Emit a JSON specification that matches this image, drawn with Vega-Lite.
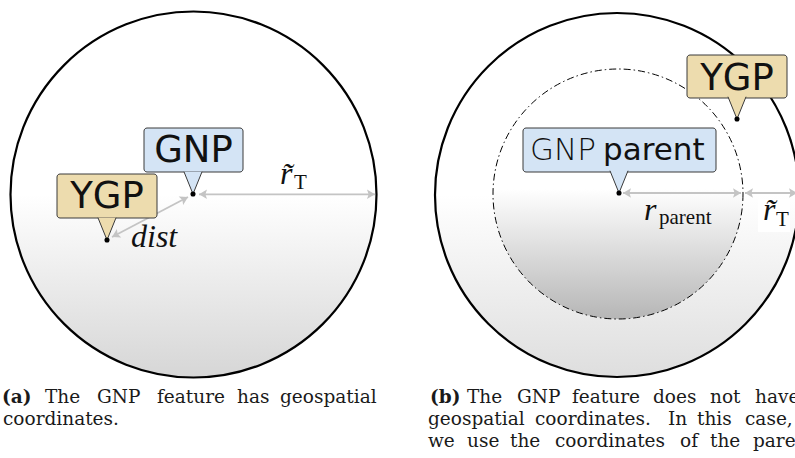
{
  "$schema": "https://vega.github.io/schema/vega-lite/v6.json",
  "width": 795,
  "height": 458,
  "padding": 0,
  "autosize": {"type": "none"},
  "background": "white",
  "config": {"view": {"stroke": null}},
  "datasets": {
    "bigL": [{"x": 193.5, "y": 194.5}],
    "bigR": [{"x": 617, "y": 195}],
    "inner": [{"x": 618, "y": 194}],
    "rules": [
      {"x": 199, "y": 194.3, "x2": 375, "y2": 194.3},
      {"x": 112, "y": 237, "x2": 188, "y2": 197},
      {"x": 623, "y": 193, "x2": 741, "y2": 193},
      {"x": 745, "y": 193, "x2": 797, "y2": 193}
    ],
    "headR": [{"x": 375, "y": 194.3}, {"x": 741, "y": 193}, {"x": 797, "y": 193}],
    "headL": [{"x": 199, "y": 194.3}, {"x": 623, "y": 193}, {"x": 745, "y": 193}],
    "headDiagUp": [{"x": 188, "y": 197}],
    "headDiagDown": [{"x": 112, "y": 237}],
    "labelBg": [{"x": 758, "x2": 790, "y": 199, "y2": 232}],
    "blueBoxes": [
      {"x": 144, "x2": 243, "y": 128, "y2": 172},
      {"x": 523, "x2": 716, "y": 128, "y2": 172}
    ],
    "tanBoxes": [
      {"x": 57, "x2": 157, "y": 174, "y2": 218},
      {"x": 687, "x2": 787, "y": 55, "y2": 98}
    ],
    "bluePointers": [{"x": 193, "y": 194}, {"x": 619, "y": 193}],
    "tanPointers": [{"x": 107, "y": 240}, {"x": 737, "y": 119}],
    "dots": [{"x": 193, "y": 194}, {"x": 107, "y": 240}, {"x": 619, "y": 193}, {"x": 737, "y": 119}],
    "labelsBig": [
      {"x": 193.5, "y": 162, "text": "GNP"},
      {"x": 107, "y": 208, "text": "YGP"},
      {"x": 737, "y": 90, "text": "YGP"}
    ],
    "gnpLight": [{"x": 530, "y": 160, "text": "GNP"}],
    "parentWord": [{"x": 603, "y": 160, "text": "parent"}],
    "mathItalic": [
      {"x": 280, "y": 184, "text": "r̃"},
      {"x": 131, "y": 247, "text": "dist"},
      {"x": 644, "y": 220, "text": "r"},
      {"x": 763, "y": 220, "text": "r̃"}
    ],
    "mathSub": [
      {"x": 294, "y": 189, "text": "T"},
      {"x": 659, "y": 224, "text": "parent"},
      {"x": 776, "y": 226, "text": "T"}
    ],
    "captionBold": [{"x": 2, "y": 403, "text": "(a)"}, {"x": 430, "y": 403, "text": "(b)"}],
    "captionWords": [
      {"x": 45, "y": 403, "text": "The"},
      {"x": 97, "y": 403, "text": "GNP"},
      {"x": 157, "y": 403, "text": "feature"},
      {"x": 237, "y": 403, "text": "has"},
      {"x": 280, "y": 403, "text": "geospatial"},
      {"x": 3, "y": 425, "text": "coordinates."},
      {"x": 467, "y": 403, "text": "The"},
      {"x": 517, "y": 403, "text": "GNP"},
      {"x": 572, "y": 403, "text": "feature"},
      {"x": 653, "y": 403, "text": "does"},
      {"x": 710, "y": 403, "text": "not"},
      {"x": 755, "y": 403, "text": "have"},
      {"x": 428, "y": 425, "text": "geospatial"},
      {"x": 535, "y": 425, "text": "coordinates."},
      {"x": 668, "y": 425, "text": "In"},
      {"x": 697, "y": 425, "text": "this"},
      {"x": 745, "y": 425, "text": "case,"},
      {"x": 428, "y": 447, "text": "we"},
      {"x": 467, "y": 447, "text": "use"},
      {"x": 510, "y": 447, "text": "the"},
      {"x": 555, "y": 447, "text": "coordinates"},
      {"x": 680, "y": 447, "text": "of"},
      {"x": 710, "y": 447, "text": "the"},
      {"x": 753, "y": 447, "text": "parent"}
    ]
  },
  "encoding": {
    "x": {"field": "x", "type": "quantitative", "scale": {"domain": [0, 795], "nice": false, "zero": false}, "axis": null},
    "y": {"field": "y", "type": "quantitative", "scale": {"domain": [0, 458], "nice": false, "zero": false, "reverse": true}, "axis": null}
  },
  "layer": [
    {
      "data": {"name": "bigL"},
      "mark": {"type": "point", "shape": "circle", "size": 133956, "filled": true, "opacity": 1,
        "fill": {"gradient": "linear", "x1": 0, "y1": 0, "x2": 0, "y2": 1,
          "stops": [{"offset": 0, "color": "#ffffff"}, {"offset": 0.5, "color": "#ffffff"}, {"offset": 1, "color": "#d6d6d6"}]},
        "stroke": "#000000", "strokeWidth": 2.2}
    },
    {
      "data": {"name": "bigR"},
      "mark": {"type": "point", "shape": "circle", "size": 132496, "filled": true, "opacity": 1,
        "fill": {"gradient": "linear", "x1": 0, "y1": 0, "x2": 0, "y2": 1,
          "stops": [{"offset": 0, "color": "#ffffff"}, {"offset": 0.5, "color": "#ffffff"}, {"offset": 1, "color": "#dedede"}]},
        "stroke": "#000000", "strokeWidth": 2.2}
    },
    {
      "data": {"name": "inner"},
      "mark": {"type": "point", "shape": "circle", "size": 62500, "filled": true, "opacity": 1,
        "fill": {"gradient": "linear", "x1": 0, "y1": 0, "x2": 0, "y2": 1,
          "stops": [{"offset": 0, "color": "#ffffff"}, {"offset": 0.48, "color": "#ffffff"}, {"offset": 1, "color": "#b6b6b6"}]},
        "stroke": "#000000", "strokeWidth": 1, "strokeDash": [7, 3, 1.5, 3]}
    },
    {
      "data": {"name": "labelBg"},
      "mark": {"type": "rect", "fill": "#ffffff"},
      "encoding": {"x2": {"field": "x2"}, "y2": {"field": "y2"}}
    },
    {
      "data": {"name": "rules"},
      "mark": {"type": "rule", "color": "#c4c4c4", "strokeWidth": 1.8},
      "encoding": {"x2": {"field": "x2"}, "y2": {"field": "y2"}}
    },
    {
      "data": {"name": "headR"},
      "mark": {"type": "point", "shape": "M0,0L-1,-0.6L-0.8,0L-1,0.6Z", "size": 256, "filled": true, "opacity": 1, "fill": "#c4c4c4", "strokeWidth": 0},
      "encoding": {}
    },
    {
      "data": {"name": "headL"},
      "mark": {"type": "point", "shape": "M0,0L1,-0.6L0.8,0L1,0.6Z", "size": 256, "filled": true, "opacity": 1, "fill": "#c4c4c4", "strokeWidth": 0},
      "encoding": {}
    },
    {
      "data": {"name": "headDiagUp"},
      "mark": {"type": "point", "shape": "M0,0L-1,-0.6L-0.8,0L-1,0.6Z", "size": 256, "angle": -27.8, "filled": true, "opacity": 1, "fill": "#c4c4c4", "strokeWidth": 0},
      "encoding": {}
    },
    {
      "data": {"name": "headDiagDown"},
      "mark": {"type": "point", "shape": "M0,0L1,-0.6L0.8,0L1,0.6Z", "size": 256, "angle": -27.8, "filled": true, "opacity": 1, "fill": "#c4c4c4", "strokeWidth": 0},
      "encoding": {}
    },
    {
      "data": {"name": "blueBoxes"},
      "mark": {"type": "rect", "fill": "#d4e4f5", "stroke": "#3a3a3a", "strokeWidth": 1, "cornerRadius": 3},
      "encoding": {"x2": {"field": "x2"}, "y2": {"field": "y2"}}
    },
    {
      "data": {"name": "tanBoxes"},
      "mark": {"type": "rect", "fill": "#eddcae", "stroke": "#3a3a3a", "strokeWidth": 1, "cornerRadius": 3},
      "encoding": {"x2": {"field": "x2"}, "y2": {"field": "y2"}}
    },
    {
      "data": {"name": "bluePointers"},
      "mark": {"type": "point", "shape": "M-0.43,-1.06L0,0L0.43,-1.06", "size": 1764, "filled": true, "opacity": 1, "fill": "#d4e4f5", "stroke": "#3a3a3a", "strokeWidth": 1}
    },
    {
      "data": {"name": "tanPointers"},
      "mark": {"type": "point", "shape": "M-0.43,-1.06L0,0L0.43,-1.06", "size": 1764, "filled": true, "opacity": 1, "fill": "#eddcae", "stroke": "#3a3a3a", "strokeWidth": 1}
    },
    {
      "data": {"name": "dots"},
      "mark": {"type": "point", "shape": "circle", "size": 26, "filled": true, "opacity": 1, "fill": "#000000"}
    },
    {
      "data": {"name": "labelsBig"},
      "mark": {"type": "text", "align": "center", "baseline": "alphabetic", "font": "DejaVu Sans", "fontSize": 37, "fill": "#111111"},
      "encoding": {"text": {"field": "text"}}
    },
    {
      "data": {"name": "gnpLight"},
      "mark": {"type": "text", "align": "left", "baseline": "alphabetic", "font": "DejaVu Sans", "fontWeight": 200, "fontSize": 31, "fill": "#111111"},
      "encoding": {"text": {"field": "text"}}
    },
    {
      "data": {"name": "parentWord"},
      "mark": {"type": "text", "align": "left", "baseline": "alphabetic", "font": "DejaVu Sans", "fontSize": 31, "fill": "#111111"},
      "encoding": {"text": {"field": "text"}}
    },
    {
      "data": {"name": "mathItalic"},
      "mark": {"type": "text", "align": "left", "baseline": "alphabetic", "font": "Liberation Serif", "fontStyle": "italic", "fontSize": 32, "fill": "#111111"},
      "encoding": {"text": {"field": "text"}}
    },
    {
      "data": {"name": "mathSub"},
      "mark": {"type": "text", "align": "left", "baseline": "alphabetic", "font": "Liberation Serif", "fontSize": 21, "fill": "#111111"},
      "encoding": {"text": {"field": "text"}}
    },
    {
      "data": {"name": "captionBold"},
      "mark": {"type": "text", "align": "left", "baseline": "alphabetic", "font": "DejaVu Serif", "fontWeight": "bold", "fontSize": 18.5, "fill": "#1a1a1a"},
      "encoding": {"text": {"field": "text"}}
    },
    {
      "data": {"name": "captionWords"},
      "mark": {"type": "text", "align": "left", "baseline": "alphabetic", "font": "DejaVu Serif", "fontSize": 18.5, "fill": "#1a1a1a"},
      "encoding": {"text": {"field": "text"}}
    }
  ]
}
